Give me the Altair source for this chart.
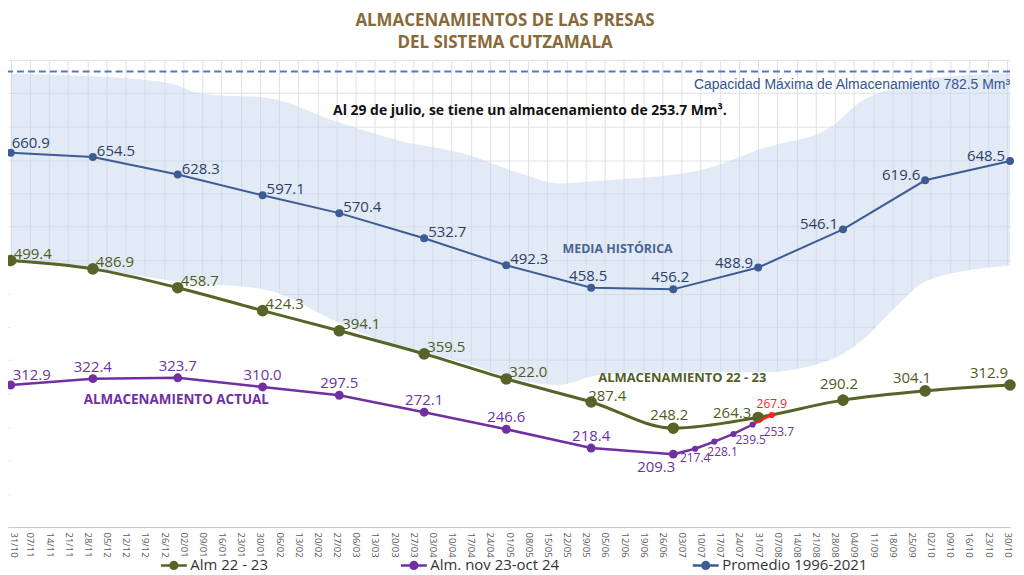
import altair as alt
import pandas as pd

START = pd.Timestamp("2022-10-31")

tick_labels = ["31/10", "07/11", "14/11", "21/11", "28/11", "05/12", "12/12", "19/12", "26/12",
               "02/01", "09/01", "16/01", "23/01", "30/01", "06/02", "13/02", "20/02", "27/02",
               "06/03", "13/03", "20/03", "27/03", "03/04", "10/04", "17/04", "24/04", "01/05",
               "08/05", "15/05", "22/05", "29/05", "05/06", "12/06", "19/06", "26/06", "03/07",
               "10/07", "17/07", "24/07", "31/07", "07/08", "14/08", "21/08", "28/08", "04/09",
               "11/09", "18/09", "25/09", "02/10", "09/10", "16/10", "23/10", "30/10"]

month_dates = ["2022-10-31", "2022-11-30", "2022-12-31", "2023-01-31", "2023-02-28", "2023-03-31",
               "2023-04-30", "2023-05-31", "2023-06-30", "2023-07-31", "2023-08-31", "2023-09-30",
               "2023-10-31"]
promedio = [660.9, 654.5, 628.3, 597.1, 570.4, 532.7, 492.3, 458.5, 456.2, 488.9, 546.1, 619.6, 648.5]
alm_22_23 = [499.4, 486.9, 458.7, 424.3, 394.1, 359.5, 322.0, 287.4, 248.2, 264.3, 290.2, 304.1, 312.9]

actual_dates = month_dates[:9] + ["2023-07-08", "2023-07-15", "2023-07-22", "2023-07-29"]
actual = [312.9, 322.4, 323.7, 310.0, 297.5, 272.1, 246.6, 218.4, 209.3, 217.4, 228.1, 239.5, 253.7]

proj_dates = ["2023-07-29", "2023-08-05"]
proj = [253.7, 267.9]

capacidad = 782.5

band_dates = ["2022-10-31", "2022-11-28", "2022-12-28", "2023-01-09", "2023-02-02", "2023-02-26",
              "2023-03-22", "2023-04-15", "2023-05-05", "2023-05-19", "2023-06-03", "2023-07-09",
              "2023-08-02", "2023-08-26", "2023-09-07", "2023-09-19", "2023-10-01", "2023-10-31"]
band_top = [779, 776, 765, 749, 743, 709, 679, 659, 630, 615, 619, 634, 668, 698, 739, 758, 772, 780]
band_low = [500, 489, 470, 465, 455, 410, 369, 346, 320, 313, 328, 332, 332, 350, 380, 429, 470, 492]

series_names = ["Alm 22 - 23", "Alm. nov 23-oct 24", "Promedio 1996-2021"]
GREEN, PURPLE, BLUE, RED = "#566428", "#7030a0", "#3d5b94", "#ff2020"


def days(lst):
    return [(pd.Timestamp(s) - START).days for s in lst]


df_prom = pd.DataFrame({"d": days(month_dates), "v": promedio, "serie": series_names[2]})
df_alm = pd.DataFrame({"d": days(month_dates), "v": alm_22_23, "serie": series_names[0]})
df_act = pd.DataFrame({"d": days(actual_dates), "v": actual, "serie": series_names[1]})
df_proj = pd.DataFrame({"d": days(proj_dates), "v": proj})
df_band = pd.DataFrame({"d": days(band_dates), "top": band_top, "low": band_low, "base": 100})
df_cap = pd.DataFrame({"v": [capacidad]})

tick_days = [7 * i for i in range(len(tick_labels))]
label_expr = "[" + ",".join("'%s'" % t for t in tick_labels) + "][round(datum.value / 7)]"

FONT = "Open Sans"

X = alt.X("d:Q", title=None,
          scale=alt.Scale(domain=[-1, 365], nice=False, zero=False),
          axis=alt.Axis(values=tick_days, labelExpr=label_expr, labelAngle=90, labelFont=FONT,
                        labelFontSize=9.5, labelColor="#5a5a5a", labelPadding=5, ticks=False,
                        labelOffset={"condition": {"test": "datum.value === 0", "value": 3}, "value": 0},
                        domainColor="#c8c8c8", gridColor="#dde1e7", grid=True, labelOverlap=False,
                        labelBound=False, labelFlush=False))
Y_AXIS = alt.Axis(values=list(range(100, 801, 50)), labels=False, ticks=False, domain=False,
                  grid=True, gridColor="#dde1e7", title=None)
YS = alt.Scale(domain=[100, 800], nice=False, zero=False)


def Y(field):
    return alt.Y(field, scale=YS, axis=Y_AXIS, title=None)


legend_path = ("M-1,0H1 M0.26,0 A0.26,0.26 0 1 1 -0.26,0 A0.26,0.26 0 1 1 0.26,0 "
               "M0.12,0 A0.12,0.12 0 1 1 -0.12,0 A0.12,0.12 0 1 1 0.12,0")
COLOR = alt.Color("serie:N",
                  scale=alt.Scale(domain=series_names, range=[GREEN, PURPLE, BLUE]),
                  legend=alt.Legend(orient="none", legendX=152, legendY=493, direction="horizontal",
                                    title=None, labelFont=FONT, labelFontSize=15, labelColor="#333333",
                                    symbolType=legend_path, symbolSize=676, symbolStrokeWidth=2.5,
                                    columnPadding=128, labelOffset=2))

# white cover below band (hides grid)
cover = alt.Chart(df_band).mark_area(color="white", opacity=1, interpolate="monotone").encode(
    x=X, y=Y("base:Q"), y2="low:Q")
band = alt.Chart(df_band).mark_area(color="#c6d6ee", opacity=0.5, interpolate="monotone").encode(
    x=X, y=Y("top:Q"), y2="low:Q")
cap = alt.Chart(df_cap).mark_rule(color="#5578bd", strokeWidth=2, strokeDash=[7, 4]).encode(
    y=Y("v:Q"))

line_prom = alt.Chart(df_prom).mark_line(strokeWidth=2).encode(x=X, y=Y("v:Q"), color=COLOR)
pts_prom = alt.Chart(df_prom).mark_circle(size=64, opacity=1, color=BLUE).encode(x=X, y=Y("v:Q"))

line_alm = alt.Chart(df_alm).mark_line(strokeWidth=3, interpolate="monotone").encode(
    x=X, y=Y("v:Q"), color=COLOR)
pts_alm = alt.Chart(df_alm).mark_circle(size=135, opacity=1, color=GREEN).encode(x=X, y=Y("v:Q"))

line_proj = alt.Chart(df_proj).mark_line(strokeWidth=2, color=RED).encode(x=X, y=Y("v:Q"))
pts_proj = alt.Chart(df_proj.iloc[1:]).mark_circle(size=38, opacity=1, color=RED).encode(
    x=X, y=Y("v:Q"))

line_act = alt.Chart(df_act).mark_line(strokeWidth=2.5).encode(x=X, y=Y("v:Q"), color=COLOR)
pts_act_big = alt.Chart(df_act.iloc[:9]).mark_circle(size=80, opacity=1, color=PURPLE).encode(
    x=X, y=Y("v:Q"))
pts_act_small = alt.Chart(df_act.iloc[9:]).mark_circle(size=38, opacity=1, color=PURPLE).encode(
    x=X, y=Y("v:Q"))


def labels(df, color, size=15, **kw):
    return alt.Chart(df).mark_text(font=FONT, fontSize=size, color=color, baseline="middle", **kw).encode(
        x=X, y=Y("v:Q"), text=alt.Text("v:Q", format=".1f"))


BL = "#2c3e66"
GL = "#4e5c23"
PL = "#6b33a3"
lab = [
    labels(df_prom.iloc[0:1], BL, align="left", dx=1, dy=-10),
    labels(df_prom.iloc[1:7], BL, align="left", dx=4, dy=-6),
    labels(df_prom.iloc[7:9], BL, align="center", dx=-3, dy=-12),
    labels(df_prom.iloc[9:13], BL, align="right", dx=-5, dy=-5),
    labels(df_alm.iloc[0:7], GL, align="left", dx=3, dy=-7),
    labels(df_alm.iloc[7:8], GL, align="left", dx=-3, dy=-6),
    labels(df_alm.iloc[8:9], GL, align="center", dx=-4, dy=-13),
    labels(df_alm.iloc[9:10], GL, align="right", dx=-7, dy=-4),
    labels(df_alm.iloc[10:11], GL, align="center", dx=-4, dy=-16),
    labels(df_alm.iloc[11:12], GL, align="right", dx=6, dy=-13),
    labels(df_alm.iloc[12:13], GL, align="right", dx=-2, dy=-12),
    labels(df_act.iloc[0:1], PL, align="left", dx=2, dy=-10),
    labels(df_act.iloc[1:8], PL, align="center", dx=0, dy=-12),
    labels(df_act.iloc[8:9], PL, align="right", dx=2, dy=13),
    labels(df_act.iloc[9:10], PL, size=12, align="center", dx=0, dy=9),
    labels(df_act.iloc[10:11], PL, size=12, align="left", dx=-7, dy=10),
    labels(df_act.iloc[11:12], PL, size=12, align="left", dx=2, dy=6),
    labels(df_act.iloc[12:13], PL, size=12, align="left", dx=11, dy=8),
    labels(df_proj.iloc[1:2], RED, size=12, align="center", dx=0, dy=-11),
]


def note(txt, x, y, size, color, weight="normal", align="center", font=FONT):
    return alt.Chart(pd.DataFrame({"t": [txt]})).mark_text(
        font=font, fontSize=size, color=color, fontWeight=weight, align=align, baseline="middle"
    ).encode(x=alt.value(x), y=alt.value(y), text="t:N")


TITLE_C = "#876a38"
notes = [
    note("ALMACENAMIENTOS DE LAS PRESAS", 499, -39, 17, TITLE_C, "bold"),
    note("DEL SISTEMA CUTZAMALA", 499, -17, 17, TITLE_C, "bold"),
    note("Capacidad Máxima de Almacenamiento 782.5 Mm³", 1006, 25, 14, "#34548f", "normal", "right",
         "Liberation Sans"),
    note("Al 29 de julio, se tiene un almacenamiento de 253.7 Mm³.", 524, 51, 14, "#111111", "bold"),
    note("MEDIA HISTÓRICA", 612, 190, 12.5, "#4a6394", "bold"),
    note("ALMACENAMIENTO 22 - 23", 677, 319, 13, "#505e28", "bold"),
    note("ALMACENAMIENTO ACTUAL", 169, 341, 13.5, "#7030a0", "bold"),
]

chart = alt.layer(
    cover, band, cap,
    line_prom, pts_prom,
    line_alm, pts_alm,
    line_proj,
    line_act, pts_act_big, pts_act_small, pts_proj,
    *lab, *notes
).properties(
    width=1006, height=469,
    autosize=alt.AutoSizeParams(type="none"),
    padding={"left": 0, "top": 51, "right": 6, "bottom": 47},
    background="white",
).configure_view(stroke=None)

chart.save("out.html", embed_options={"renderer": "svg", "actions": False})
